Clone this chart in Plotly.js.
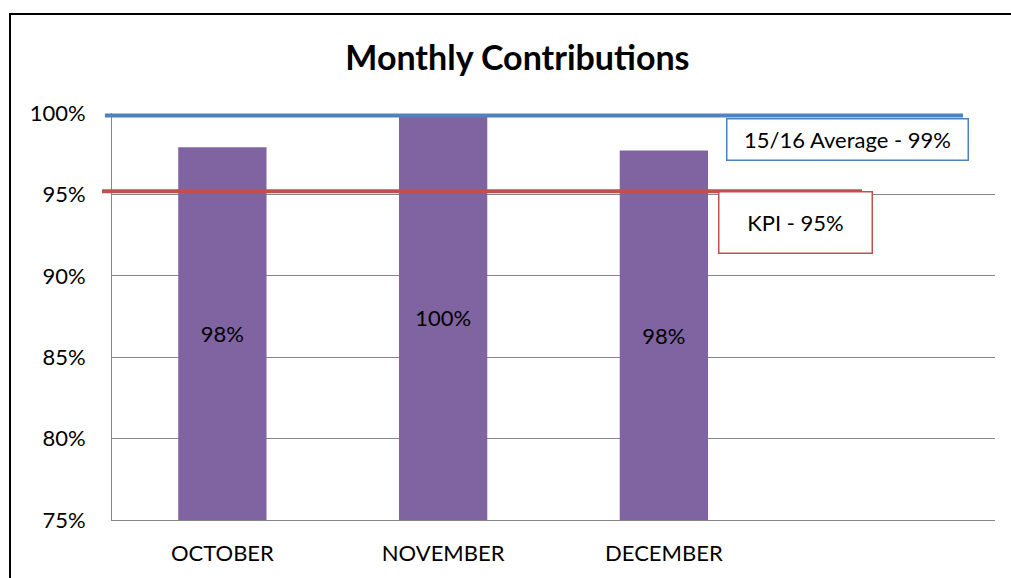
<!DOCTYPE html>
<html>
<head>
<meta charset="utf-8">
<script src="https://cdn.plot.ly/plotly-3.0.1.min.js"></script>
<style>
html,body{margin:0;padding:0;background:#fff;}
#chart{width:1011px;height:578px;}
</style>
</head>
<body>
<div id="chart"></div>
<script>
// Data
var months = ["OCTOBER", "NOVEMBER", "DECEMBER"];
var contributions = [97.9, 99.9, 97.7];
var barLabels = ["98%", "100%", "98%"];
var averageValue = 99.85;   // 15/16 Average line
var averageLabel = "15/16 Average - 99%";
var kpiValue = 95.2;        // KPI line
var kpiLabel = "KPI - 95%";
var axisMin = 75;
var axisMax = 100;
var yTickVals = [75, 80, 85, 90, 95, 100];
var yTickText = ["75%", "80%", "85%", "90%", "95%", "100%"];

var FONT = "Lato, 'Open Sans', sans-serif";
var xIdx = months.map(function(_, i){ return i; });

var bars = {
  type: "bar",
  x: xIdx,
  base: axisMin,
  y: contributions.map(function(v){ return v - axisMin; }),
  width: 0.4,
  text: barLabels,
  texttemplate: "%{text}",
  textposition: "inside",
  insidetextanchor: "middle",
  textangle: 0,
  constraintext: "none",
  textfont: {family: FONT, size: 22, color: "#000"},
  insidetextfont: {family: FONT, size: 22, color: "#000"},
  marker: {color: "#8064A2", line: {width: 0}},
  hoverinfo: "skip"
};

var layout = {
  width: 1011,
  height: 578,
  margin: {l: 112, r: 16, t: 113, b: 58},
  paper_bgcolor: "#fff",
  plot_bgcolor: "#fff",
  showlegend: false,
  uniformtext: {mode: false},
  title: {
    text: "<b>Monthly Contributions</b>",
    font: {family: FONT, size: 34, color: "#000"},
    x: 0.5118, xanchor: "center",
    y: 0.90, yanchor: "middle", yref: "container"
  },
  xaxis: {
    range: [-0.5, 3.5],
    tickvals: xIdx,
    ticktext: months,
    showgrid: false,
    zeroline: false,
    showline: true,
    linecolor: "#868686",
    linewidth: 1,
    ticks: "",
    ticklabelstandoff: 14,
    tickfont: {family: FONT, size: 22, color: "#000"},
    fixedrange: true
  },
  yaxis: {
    range: [axisMin, axisMax],
    tickvals: yTickVals,
    ticktext: yTickText,
    showgrid: true,
    gridcolor: "#868686",
    gridwidth: 1,
    zeroline: false,
    showline: true,
    linecolor: "#868686",
    linewidth: 1,
    ticks: "",
    ticklabelstandoff: 21,
    tickfont: {family: FONT, size: 22, color: "#000"},
    fixedrange: true
  },
  shapes: [
    {type: "line", xref: "paper", yref: "y", x0: -0.008, x1: 0.9637,
     y0: averageValue, y1: averageValue, line: {color: "#4F81BD", width: 4}, layer: "above"},
    {type: "line", xref: "paper", yref: "y", x0: -0.0113, x1: 0.8494,
     y0: kpiValue, y1: kpiValue, line: {color: "#C0504D", width: 4}, layer: "above"},
    {type: "line", xref: "paper", yref: "paper", x0: -0.1155, x1: 1.03,
     y0: 1.2432, y1: 1.2432, line: {color: "#000", width: 2}},
    {type: "line", xref: "paper", yref: "paper", x0: -0.1155, x1: -0.1155,
     y0: 1.2456, y1: -0.16, line: {color: "#000", width: 2}}
  ],
  annotations: [
    {xref: "paper", yref: "paper", x: 0.8335, y: 0.9337, xanchor: "center", yanchor: "middle",
     text: averageLabel, showarrow: false, width: 240, height: 40, borderpad: 0,
     bordercolor: "#4F81BD", borderwidth: 1.5, bgcolor: "#fff",
     font: {family: FONT, size: 22, color: "#000"}},
    {xref: "paper", yref: "paper", x: 0.774, y: 0.731, xanchor: "center", yanchor: "middle",
     text: kpiLabel, showarrow: false, width: 152, height: 60, borderpad: 0,
     bordercolor: "#C0504D", borderwidth: 1.5, bgcolor: "#fff",
     font: {family: FONT, size: 22, color: "#000"}}
  ]
};

Plotly.newPlot("chart", [bars], layout, {staticPlot: true, displayModeBar: false});
</script>
</body>
</html>
